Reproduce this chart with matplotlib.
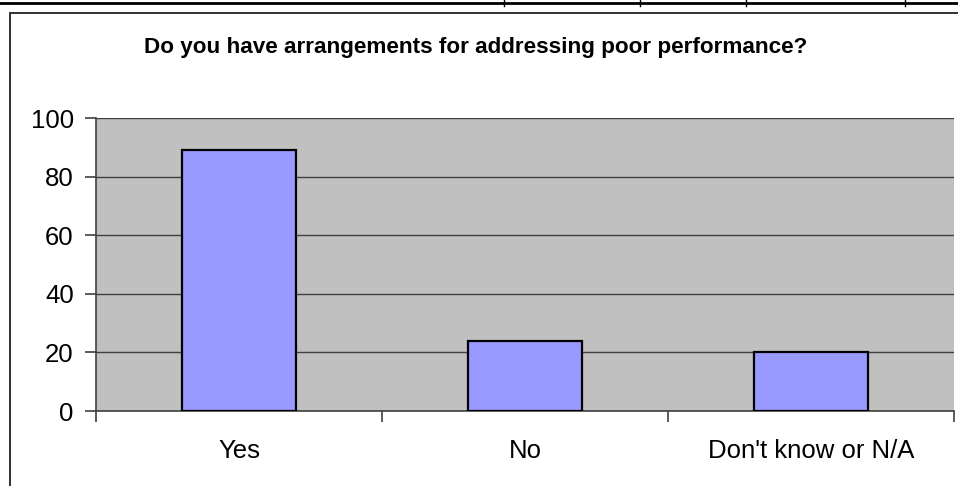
import matplotlib.pyplot as plt
from matplotlib.lines import Line2D
from matplotlib.patches import Rectangle

# Survey answers
categories = ["Yes", "No", "Don't know or N/A"]
counts = [89, 24, 20]
y_ticks = [0, 20, 40, 60, 80, 100]

W, H = 958, 486
plt.rcParams['font.family'] = ['Liberation Sans', 'DejaVu Sans']

fig = plt.figure(figsize=(W / 100, H / 100), dpi=100)

# leftover table rule across the top of the page
fig.add_artist(Line2D([0, 1], [1 - 3.5 / H, 1 - 3.5 / H], color='black', lw=2.0))
for xv in [504, 640, 746, 905]:
    fig.add_artist(Line2D([xv / W, xv / W], [1, 1 - 6 / H], color='black', lw=1.0))

# chart frame (runs off the right and bottom edges)
fig.add_artist(Rectangle((10 / W, -0.1), 1.2, 1 - 13 / H + 0.1, transform=fig.transFigure,
                         fill=False, edgecolor='#222222', lw=1.3))

ax = fig.add_axes([96 / W, (H - 411) / H, 858 / W, 293 / H])
ax.set_facecolor('#C0C0C0')

x = list(range(len(categories)))
ax.bar(x, counts, width=0.4, color='#9999FF', edgecolor='black', linewidth=1.6, zorder=3)

ax.set_xlim(-0.5, len(categories) - 0.5)
ax.set_ylim(0, 100)
ax.set_yticks(y_ticks)
ax.yaxis.grid(True, color='#404040', linewidth=1.0)
ax.set_axisbelow(True)

for s in ['top', 'right']:
    ax.spines[s].set_visible(False)
ax.spines['left'].set_color('#404040')
ax.spines['bottom'].set_color('#404040')
ax.spines['left'].set_linewidth(1.2)
ax.spines['bottom'].set_linewidth(1.2)

# category boundary ticks
ax.set_xticks([i - 0.5 for i in range(len(categories) + 1)])
ax.set_xticklabels([])
ax.set_xticks(x, minor=True)
ax.set_xticklabels(categories, minor=True, fontsize=18.5)
ax.tick_params(axis='x', which='major', length=8, width=1.2, color='#404040', direction='out')
ax.tick_params(axis='x', which='minor', length=0, pad=20)
ax.tick_params(axis='y', length=8, width=1.2, color='#404040', labelsize=18.5, pad=8)

fig.text(476 / W, 1 - 48 / H, "Do you have arrangements for addressing poor performance?",
         ha='center', va='center', fontsize=16.2, fontweight='bold')

fig.savefig('out.png', dpi=100)
